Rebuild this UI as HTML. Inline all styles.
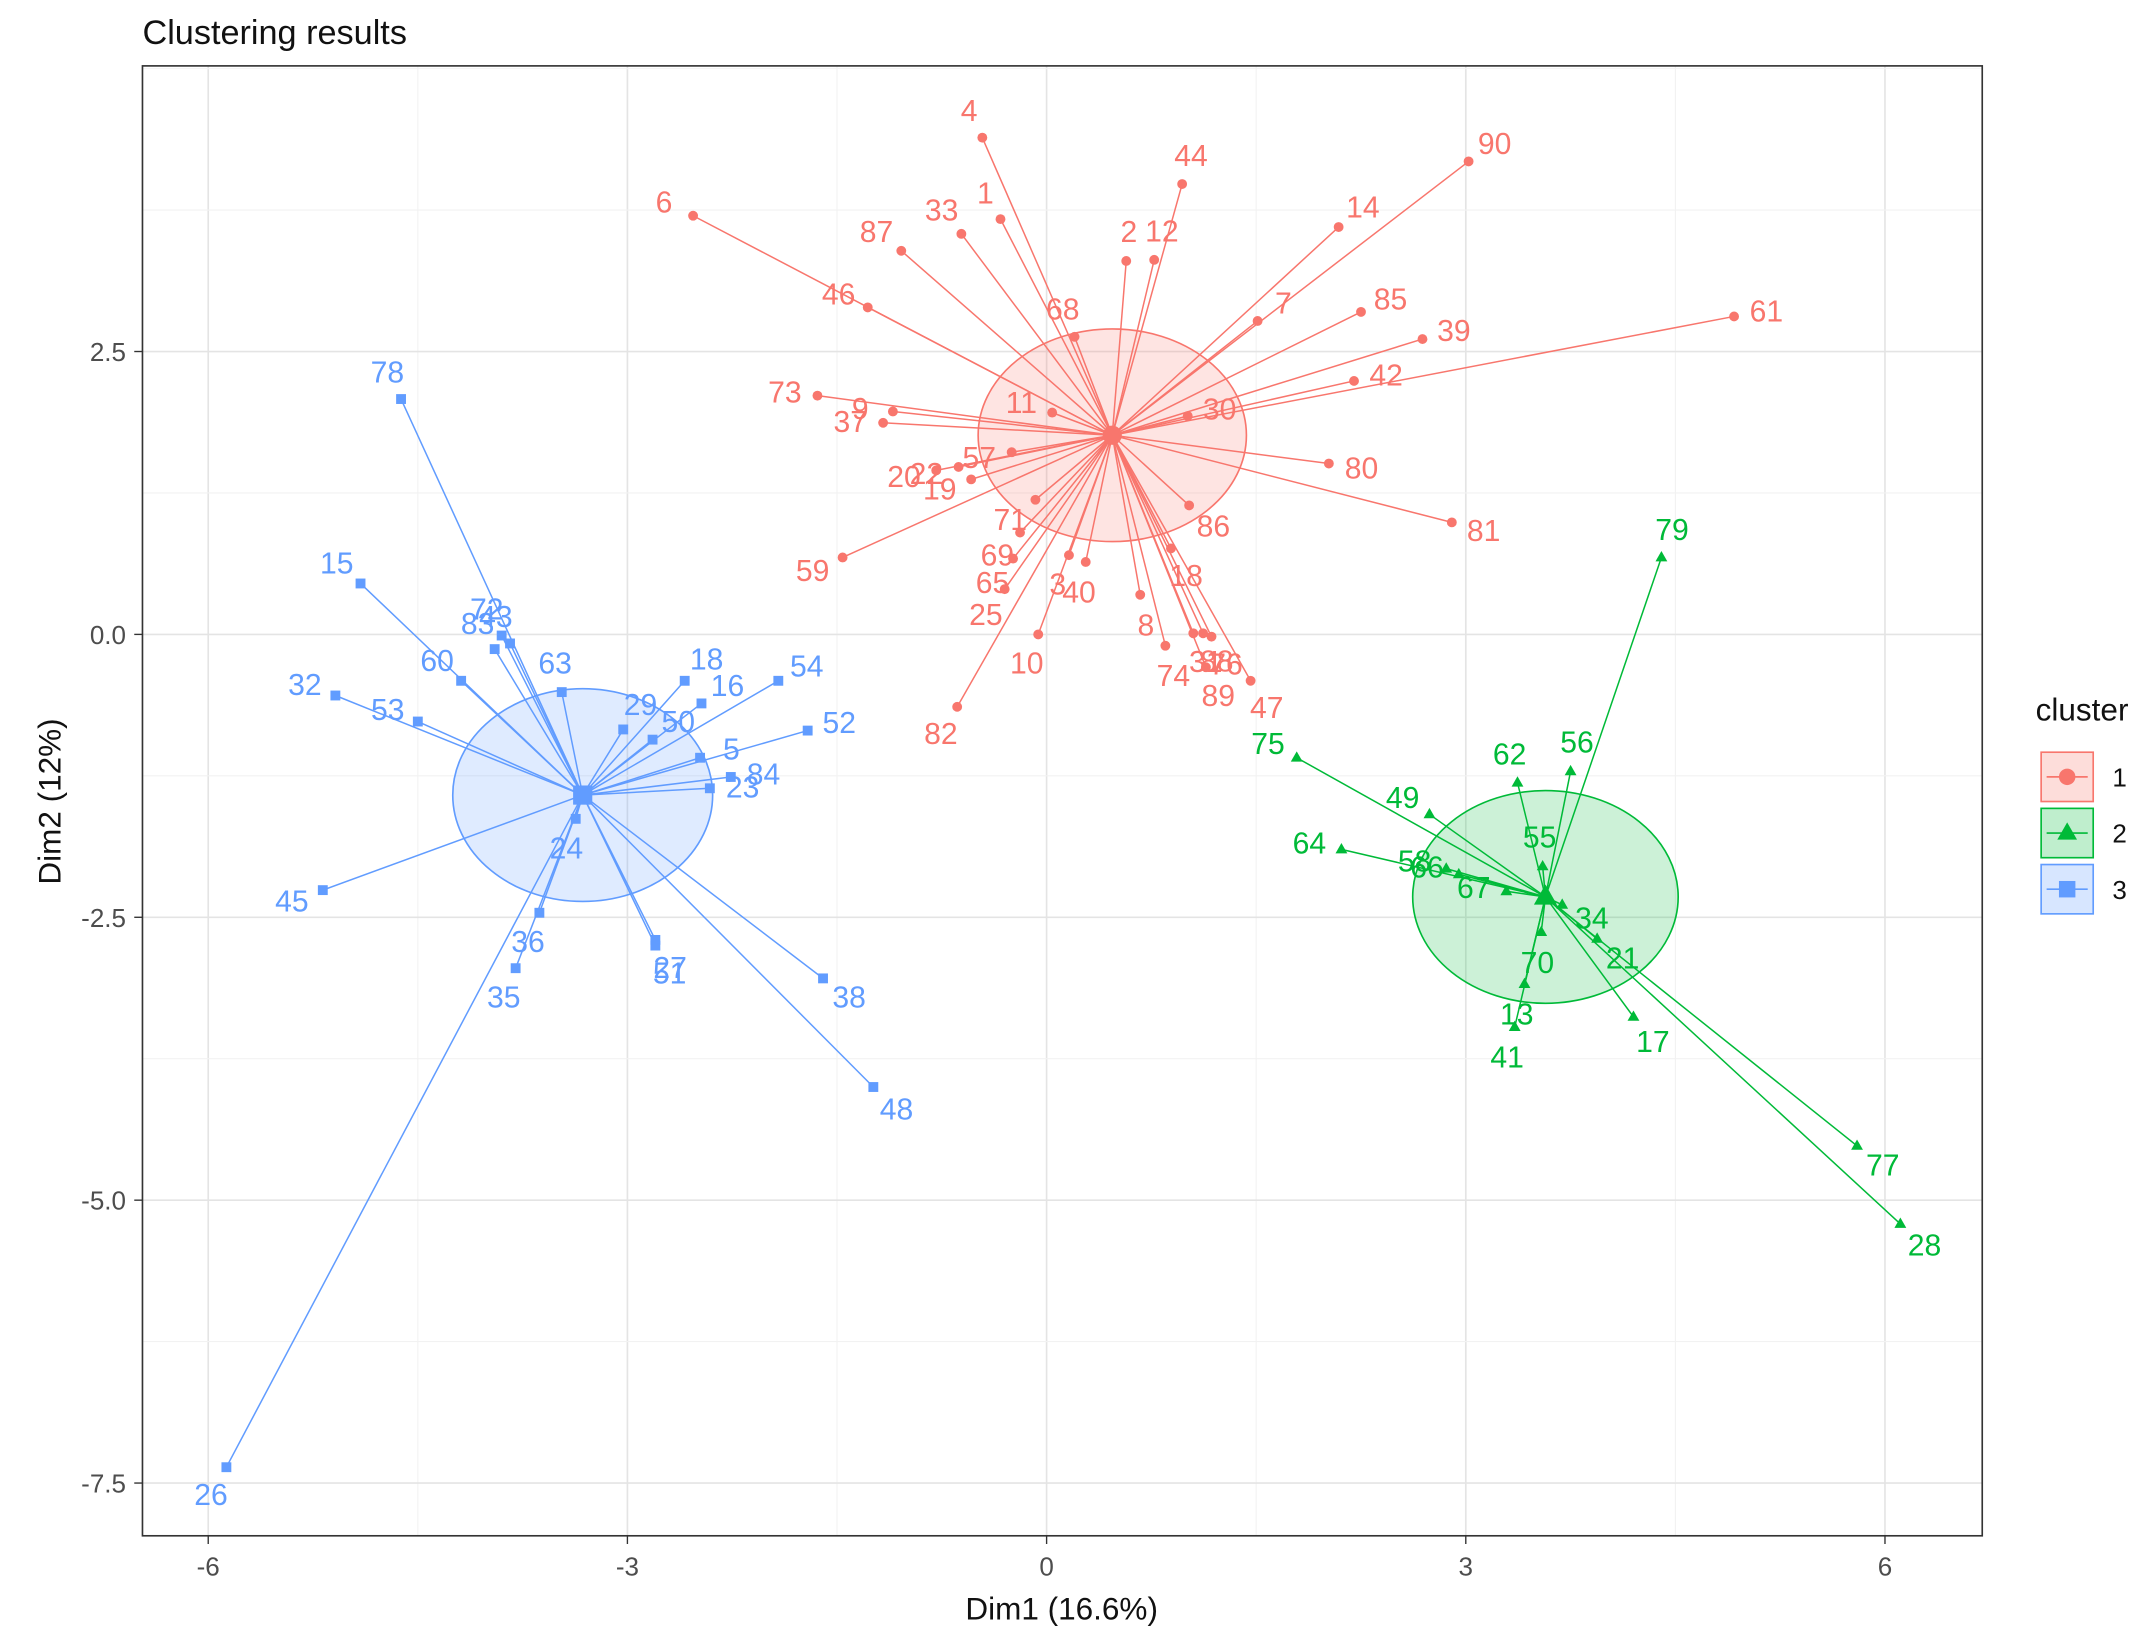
<!DOCTYPE html>
<html><head><meta charset="utf-8"><style>
html,body{margin:0;padding:0;background:#fff;}
svg{display:block;font-family:"Liberation Sans",sans-serif;}
</style></head><body>
<svg id="chart" width="2148" height="1651" viewBox="0 0 1568 1205" xmlns="http://www.w3.org/2000/svg">
<text x="104" y="32" font-size="25" fill="#111">Clustering results</text>
<g id="grid"></g>
<g id="ellipses"></g>
<g id="segs"></g>
<g id="pts"></g>
<g id="labels"></g>
<rect x="104" y="48" width="1343" height="1073" fill="none" stroke="#333" stroke-width="1.2"/>
<g id="axes"></g>
<text x="775" y="1182" font-size="23" text-anchor="middle" fill="#111">Dim1 (16.6%)</text>
<text transform="translate(44,585) rotate(-90)" font-size="23" text-anchor="middle" fill="#111">Dim2 (12%)</text>
<g id="legend">
<text x="1486" y="526" font-size="23" fill="#111">cluster</text>
</g>
</svg>
<script>
const xTicks=[-6,-3,0,3,6];
const yTicks=[2.5,0,-2.5,-5,-7.5];
const clusterNames=["1","2","3"];
const clusterColors=["#F8766D","#00BA38","#619CFF"];
const c1Labels=["6","4","1","44","12","2","90","14","33","87","46","68","85","7","61","39","42","73","9","37","11","57","20","22","19","71","30","80","86","81","69","65","59","40","3","25","8","10","18","31","88","76","89","47","74","82"];
const c1X=[-2.53,-0.46,-0.33,0.97,0.77,0.57,3.02,2.09,-0.61,-1.04,-1.28,0.20,2.25,1.51,4.92,2.69,2.20,-1.64,-1.10,-1.17,0.04,-0.25,-0.79,-0.63,-0.54,-0.08,1.01,2.02,1.02,2.90,-0.19,-0.24,-1.46,0.28,0.16,-0.30,0.67,-0.06,0.89,1.05,1.12,1.18,1.14,1.46,0.85,-0.64];
const c1Y=[3.70,4.39,3.67,3.98,3.31,3.30,4.18,3.60,3.54,3.39,2.89,2.63,2.85,2.77,2.81,2.61,2.24,2.11,1.97,1.87,1.96,1.61,1.45,1.48,1.37,1.19,1.93,1.51,1.14,0.99,0.90,0.67,0.68,0.64,0.70,0.40,0.35,0.00,0.76,0.01,0.01,-0.02,-0.29,-0.41,-0.10,-0.64];
const c2Labels=["79","75","56","62","64","49","58","55","66","67","34","70","21","13","41","17","77","28"];
const c2X=[4.40,1.79,3.75,3.37,2.11,2.74,2.86,3.55,2.95,3.29,3.69,3.54,3.94,3.42,3.35,4.20,5.80,6.11];
const c2Y=[0.68,-1.09,-1.21,-1.31,-1.90,-1.59,-2.07,-2.05,-2.12,-2.27,-2.39,-2.63,-2.69,-3.09,-3.47,-3.38,-4.52,-5.21];
const c3Labels=["78","15","72","83","43","60","32","53","63","18","16","54","50","29","52","84","23","5","45","24","36","35","27","51","38","48","26"];
const c3X=[-4.62,-4.91,-3.90,-3.95,-3.84,-4.19,-5.09,-4.50,-3.47,-2.59,-2.47,-1.92,-2.82,-3.03,-1.71,-2.26,-2.41,-2.48,-5.18,-3.37,-3.63,-3.80,-2.80,-2.80,-1.60,-1.24,-5.87];
const c3Y=[2.08,0.45,-0.01,-0.13,-0.08,-0.41,-0.54,-0.77,-0.51,-0.41,-0.61,-0.41,-0.93,-0.84,-0.85,-1.26,-1.36,-1.09,-2.26,-1.63,-2.46,-2.95,-2.70,-2.75,-3.04,-4.00,-7.36];
const centerX=[0.47,3.57,-3.32];
const centerY=[1.76,-2.32,-1.42];
const ellRx=[0.96,0.95,0.93];
const ellRy=[0.94,0.94,0.94];

const NS="http://www.w3.org/2000/svg";
const sx=v=>764+v*102, sy=v=>463-v*82.6;
function mk(tag,attrs,parent){const e=document.createElementNS(NS,tag);for(const k in attrs)e.setAttribute(k,attrs[k]);document.getElementById(parent).appendChild(e);return e;}
// grid
for(let v=-7.5;v<=6.01;v+=1.5){const e=mk("line",{x1:sx(v),x2:sx(v),y1:48,y2:1121,stroke:xTicks.includes(v)?"#e4e4e4":"#f2f2f2","stroke-width":xTicks.includes(v)?1.2:0.8},"grid");

}
for(let v=-7.5;v<=5;v+=1.25){const e=mk("line",{x1:104,x2:1447,y1:sy(v),y2:sy(v),stroke:yTicks.includes(v)?"#e4e4e4":"#f2f2f2","stroke-width":yTicks.includes(v)?1.2:0.8},"grid");

}
xTicks.forEach(v=>{const t=mk("text",{x:sx(v),y:1150,"font-size":19,"text-anchor":"middle",fill:"#4d4d4d"},"axes");t.textContent=v;


mk("line",{x1:sx(v),x2:sx(v),y1:1121,y2:1127,stroke:"#333"},"axes");});
yTicks.forEach(v=>{const t=mk("text",{x:92,y:sy(v)+7,"font-size":19,"text-anchor":"end",fill:"#4d4d4d"},"axes");t.textContent=v.toFixed(1);


mk("line",{x1:98,x2:104,y1:sy(v),y2:sy(v),stroke:"#333"},"axes");});
function shape(k,x,y,s,parent,col){let e;
 if(k===0)e=mk("circle",{cx:x,cy:y,r:s,fill:col},parent);
 else if(k===1)e=mk("polygon",{points:`${x},${y-s*1.3} ${x-s*1.2},${y+s*0.8} ${x+s*1.2},${y+s*0.8}`,fill:col},parent);
 else e=mk("rect",{x:x-s,y:y-s,width:2*s,height:2*s,fill:col},parent);
 return e;}
const sets=[[c1Labels,c1X,c1Y],[c2Labels,c2X,c2Y],[c3Labels,c3X,c3Y]];
sets.forEach((s,k)=>{const col=clusterColors[k],cx=sx(centerX[k]),cy=sy(centerY[k]);
 const el=mk("ellipse",{cx:cx,cy:cy,rx:ellRx[k]*102,ry:ellRy[k]*82.6,fill:col,"fill-opacity":0.2,stroke:col,"stroke-width":1.2},"ellipses");
 
 
 s[0].forEach((lab,i)=>{const px=sx(s[1][i]),py=sy(s[2][i]);
  const l=mk("line",{x1:cx,y1:cy,x2:px,y2:py,stroke:col,"stroke-width":1.1},"segs");
  
  
  const p=shape(k,px,py,3.6,"pts",col);
  
  
  let dx=px-cx,dy=py-cy,d=Math.hypot(dx,dy)||1;
  const t=mk("text",{x:px+dx/d*24,y:py+dy/d*22+8,"font-size":22,"text-anchor":"middle",fill:col},"labels");
  t.textContent=lab;
  
  });
 const c=shape(k,cx,cy,7,"pts",col);
 
 
 // legend
 const ly=567+k*41;
 const r=mk("rect",{x:1490,y:ly-18,width:38,height:36,fill:col,"fill-opacity":0.25,stroke:col,"stroke-width":1.2},"legend");
 
 
 mk("line",{x1:1494,x2:1524,y1:ly,y2:ly,stroke:col,"stroke-width":1.2},"legend");
 shape(k,1509,ly,6,"legend",col);
 const lt=mk("text",{x:1542,y:ly+7,"font-size":19,fill:"#111"},"legend");lt.textContent=clusterNames[k];
 
 
});
</script>
</body></html>
